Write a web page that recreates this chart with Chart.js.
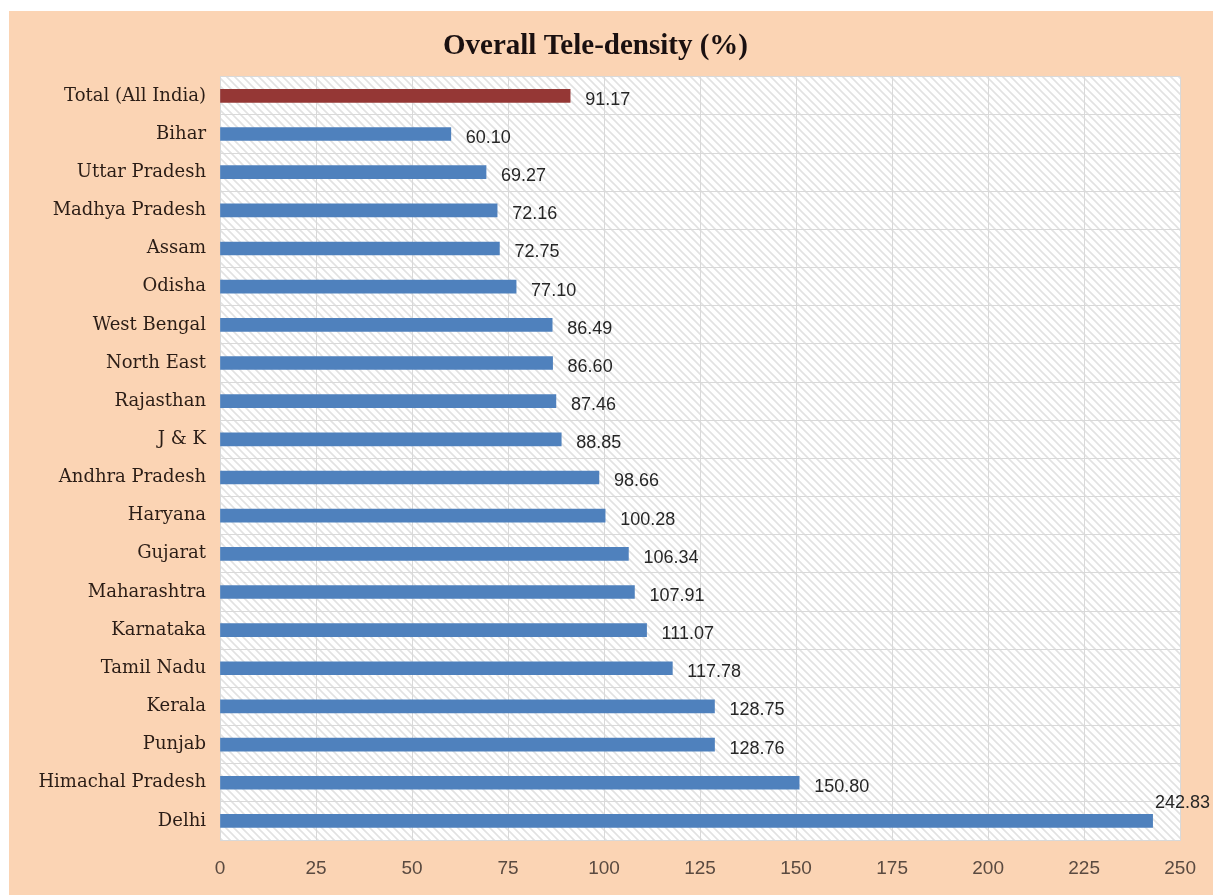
<!DOCTYPE html>
<html lang="en">
<head>
    <meta charset="UTF-8">
    <title>Overall Tele-density (%)</title>
    <script src="https://cdn.jsdelivr.net/npm/chart.js"></script>
    <style>
        html, body { margin: 0; padding: 0; background: #ffffff; }
        #box {
            position: absolute;
            left: 9px; top: 11px;
            width: 1204px; height: 884px;
            background: #fbd4b4;
        }
    </style>
</head>
<body>
    <div id="box"><canvas id="myChart" width="1204" height="884"></canvas></div>
    <script>
        // data
        var states = ['Total (All India)', 'Bihar', 'Uttar Pradesh', 'Madhya Pradesh', 'Assam', 'Odisha',
            'West Bengal', 'North East', 'Rajasthan', 'J & K', 'Andhra Pradesh', 'Haryana', 'Gujarat',
            'Maharashtra', 'Karnataka', 'Tamil Nadu', 'Kerala', 'Punjab', 'Himachal Pradesh', 'Delhi'];
        var teleDensity = [91.17, 60.10, 69.27, 72.16, 72.75, 77.10, 86.49, 86.60, 87.46, 88.85,
            98.66, 100.28, 106.34, 107.91, 111.07, 117.78, 128.75, 128.76, 150.80, 242.83];
        var xTicks = [0, 25, 50, 75, 100, 125, 150, 175, 200, 225, 250];

        var barColors = states.map(function (s, i) { return i === 0 ? '#953735' : '#4f81bd'; });

        // hatched plot background
        var tile = document.createElement('canvas');
        tile.width = 8; tile.height = 8;
        var tc = tile.getContext('2d');
        tc.fillStyle = '#ffffff';
        tc.fillRect(0, 0, 8, 8);
        tc.strokeStyle = '#e2e2e2';
        tc.lineWidth = 1.6;
        tc.beginPath();
        tc.moveTo(-2, -2); tc.lineTo(10, 10);
        tc.moveTo(-10, -2); tc.lineTo(2, 10);
        tc.moveTo(6, -2); tc.lineTo(18, 10);
        tc.stroke();

        var hatchPlugin = {
            id: 'hatch',
            beforeDraw: function (chart) {
                var a = chart.chartArea, c = chart.ctx;
                c.save();
                c.fillStyle = c.createPattern(tile, 'repeat');
                c.fillRect(a.left, a.top, a.right - a.left, a.bottom - a.top);
                c.restore();
            }
        };

        var valuePlugin = {
            id: 'values',
            afterDatasetsDraw: function (chart) {
                var c = chart.ctx;
                var meta = chart.getDatasetMeta(0);
                c.save();
                c.font = '18px "Liberation Sans", sans-serif';
                c.fillStyle = '#262626';
                c.textBaseline = 'middle';
                meta.data.forEach(function (bar, i) {
                    var txt = teleDensity[i].toFixed(2);
                    var w = c.measureText(txt).width;
                    var x = bar.x + 15, y = bar.y + 4;
                    if (x + w > chart.width - 2) {
                        x = chart.width - w - 3;
                        y = bar.y - 18;
                    }
                    c.fillText(txt, x, y);
                });
                c.restore();
            }
        };

        var ctx = document.getElementById('myChart').getContext('2d');
        var myChart = new Chart(ctx, {
            type: 'bar',
            data: {
                labels: states,
                datasets: [{
                    data: teleDensity,
                    backgroundColor: barColors,
                    barThickness: 13
                }]
            },
            options: {
                indexAxis: 'y',
                responsive: false,
                animation: false,
                layout: { padding: { left: 0, right: 31, top: 0, bottom: 0 } },
                plugins: {
                    legend: { display: false },
                    tooltip: { enabled: false },
                    title: {
                        display: true,
                        text: 'Overall Tele-density (%)',
                        color: '#1a1010',
                        font: { family: '"Liberation Serif", serif', size: 29, weight: 'bold' },
                        padding: { top: 18, bottom: 13 }
                    }
                },
                scales: {
                    x: {
                        min: 0, max: 250,
                        afterBuildTicks: function (scale) {
                            scale.ticks = xTicks.map(function (v) { return { value: v }; });
                        },
                        afterFit: function (scale) { scale.height = 55; },
                        grid: { color: '#d9d9d9', drawTicks: false },
                        border: { color: '#d9d9d9' },
                        ticks: {
                            color: '#5a4a40',
                            padding: 17,
                            font: { family: '"Liberation Sans", sans-serif', size: 19 }
                        }
                    },
                    y: {
                        afterFit: function (scale) { scale.width = 211; },
                        grid: { color: '#d9d9d9', drawTicks: false },
                        border: { color: '#d9d9d9' },
                        ticks: {
                            color: '#2b1d16',
                            padding: 14,
                            font: { family: '"DejaVu Serif", serif', size: 18 }
                        }
                    }
                }
            },
            plugins: [hatchPlugin, valuePlugin]
        });
    </script>
</body>
</html>
